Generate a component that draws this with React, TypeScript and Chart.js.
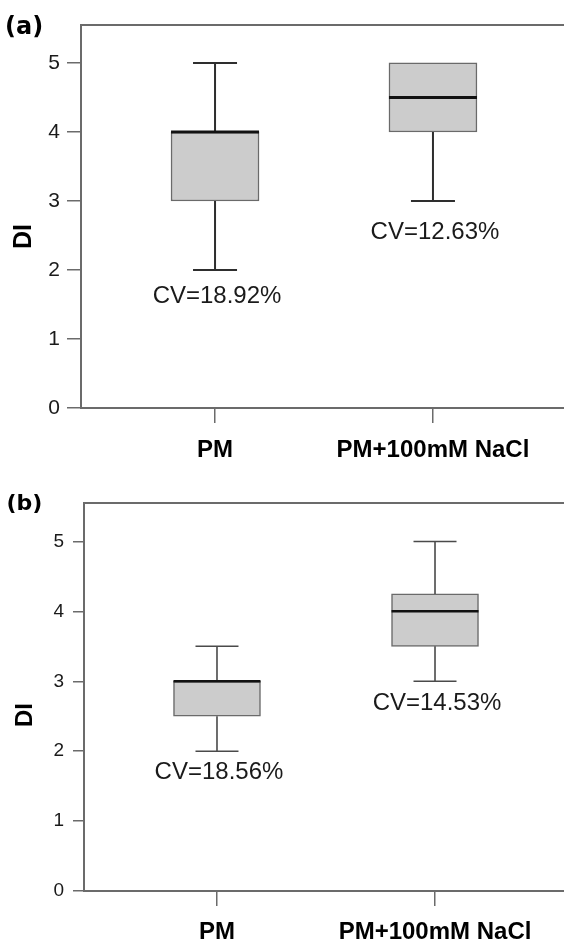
import React, { useEffect, useRef } from 'react';
import { Chart, registerables } from 'chart.js';

Chart.register(...registerables);

// ---------- data ----------
const categories = ['PM', 'PM+100mM NaCl'];
const categoryPositions = [1, 2];
const yTickValues = [0, 1, 2, 3, 4, 5];
const yAxisTitle = 'DI';

const panelALabel = '(a)';
const panelAMin = [2, 3];
const panelAQ1 = [3, 4];
const panelAMedian = [4, 4.5];
const panelAQ3 = [4, 5];
const panelAMax = [5, 5];
const panelACV = ['CV=18.92%', 'CV=12.63%'];
const panelACVAt = [1.62, 2.54];

const panelBLabel = '(b)';
const panelBMin = [2, 3];
const panelBQ1 = [2.5, 3.5];
const panelBMedian = [3, 4];
const panelBQ3 = [3, 4.25];
const panelBMax = [3.5, 5];
const panelBCV = ['CV=18.56%', 'CV=14.53%'];
const panelBCVAt = [1.7, 2.69];

// ---------- styles ----------
const SANS = '"Liberation Sans", Arial, Helvetica, sans-serif';
const AXIS_COLOR = '#6b6b6b';
const TEXT_COLOR = '#1a1a1a';
const BOX_FILL = '#cccccc';
const BOX_BORDER = '#6a6a6a';

type Panel = {
  label: string;
  min: number[];
  q1: number[];
  median: number[];
  q3: number[];
  max: number[];
  cv: string[];
  cvAt: number[];
  canvasW: number;
  canvasH: number;
  offsetTop: number;
  padTop: number;
  yAxisW: number;
  xAxisH: number;
  xMin: number;
  xMax: number;
  yMax: number;
  boxW: number;
  capW: number;
  tickFont: number;
  tickPad: number;
  tickLen: number;
  xLabelPad: number;
  whiskerW: number;
  whiskerColor: string;
  medianW: number;
  titleX: number;
  titleY: number;
  titleFont: number;
  panelX: number;
  panelY: number;
  panelFont: number;
};

const panels: Panel[] = [
  {
    label: panelALabel,
    min: panelAMin,
    q1: panelAQ1,
    median: panelAMedian,
    q3: panelAQ3,
    max: panelAMax,
    cv: panelACV,
    cvAt: panelACVAt,
    canvasW: 567,
    canvasH: 470,
    offsetTop: 0,
    padTop: 25,
    yAxisW: 81,
    xAxisH: 62,
    xMin: 0.385,
    xMax: 2.615,
    yMax: 5.55,
    boxW: 88,
    capW: 44,
    tickFont: 21,
    tickPad: 7,
    tickLen: 14,
    xLabelPad: 13,
    whiskerW: 2,
    whiskerColor: '#2e2e2e',
    medianW: 3,
    titleX: 24,
    titleY: 236.5,
    titleFont: 25,
    panelX: 5,
    panelY: 33.5,
    panelFont: 24,
  },
  {
    label: panelBLabel,
    min: panelBMin,
    q1: panelBQ1,
    median: panelBMedian,
    q3: panelBQ3,
    max: panelBMax,
    cv: panelBCV,
    cvAt: panelBCVAt,
    canvasW: 568,
    canvasH: 475,
    offsetTop: 470,
    padTop: 33,
    yAxisW: 84,
    xAxisH: 54,
    xMin: 0.39,
    xMax: 2.61,
    yMax: 5.55,
    boxW: 87,
    capW: 43,
    tickFont: 19,
    tickPad: 9,
    tickLen: 11,
    xLabelPad: 12,
    whiskerW: 1.6,
    whiskerColor: '#4a4a4a',
    medianW: 2.5,
    titleX: 25.5,
    titleY: 245,
    titleFont: 24,
    panelX: 6.5,
    panelY: 40.4,
    panelFont: 22,
  },
];

function makeExtras(p: Panel) {
  return {
    id: 'boxExtras',
    afterDatasetsDraw(chart: any) {
      const { ctx, chartArea } = chart;
      const xs = chart.scales.x;
      const ys = chart.scales.y;
      ctx.save();

      // top frame line
      ctx.strokeStyle = AXIS_COLOR;
      ctx.lineWidth = 2;
      ctx.beginPath();
      ctx.moveTo(chartArea.left, chartArea.top);
      ctx.lineTo(chartArea.right, chartArea.top);
      ctx.stroke();

      categoryPositions.forEach((pos, i) => {
        const cx = xs.getPixelForValue(pos);
        const yMin = ys.getPixelForValue(p.min[i]);
        const yQ1 = ys.getPixelForValue(p.q1[i]);
        const yMed = ys.getPixelForValue(p.median[i]);
        const yQ3 = ys.getPixelForValue(p.q3[i]);
        const yMax = ys.getPixelForValue(p.max[i]);

        // whiskers
        ctx.strokeStyle = p.whiskerColor;
        ctx.lineWidth = p.whiskerW;
        ctx.beginPath();
        if (p.max[i] > p.q3[i]) {
          ctx.moveTo(cx, yQ3);
          ctx.lineTo(cx, yMax);
          ctx.moveTo(cx - p.capW / 2, yMax);
          ctx.lineTo(cx + p.capW / 2, yMax);
        }
        if (p.min[i] < p.q1[i]) {
          ctx.moveTo(cx, yQ1);
          ctx.lineTo(cx, yMin);
          ctx.moveTo(cx - p.capW / 2, yMin);
          ctx.lineTo(cx + p.capW / 2, yMin);
        }
        ctx.stroke();

        // median
        ctx.strokeStyle = '#111111';
        ctx.lineWidth = p.medianW;
        ctx.beginPath();
        ctx.moveTo(cx - p.boxW / 2, yMed);
        ctx.lineTo(cx + p.boxW / 2, yMed);
        ctx.stroke();

        // CV annotation
        ctx.fillStyle = TEXT_COLOR;
        ctx.font = `24px ${SANS}`;
        ctx.textAlign = 'center';
        ctx.textBaseline = 'middle';
        ctx.fillText(p.cv[i], cx + 2, ys.getPixelForValue(p.cvAt[i]));
      });

      // y-axis title
      ctx.save();
      ctx.translate(p.titleX, p.titleY);
      ctx.rotate(-Math.PI / 2);
      ctx.font = `bold ${p.titleFont}px ${SANS}`;
      ctx.fillStyle = '#000';
      ctx.textAlign = 'center';
      ctx.textBaseline = 'middle';
      ctx.fillText(yAxisTitle, 0, 0);
      ctx.restore();

      // panel label
      ctx.font = `bold ${p.panelFont}px "DejaVu Sans", sans-serif`;
      ctx.fillStyle = '#000';
      ctx.textAlign = 'left';
      ctx.textBaseline = 'alphabetic';
      ctx.fillText(p.label, p.panelX, p.panelY);

      ctx.restore();
    },
  };
}

function BoxPanel({ p }: { p: Panel }) {
  const ref = useRef<HTMLCanvasElement | null>(null);

  useEffect(() => {
    if (!ref.current) return;
    const chart = new Chart(ref.current, {
      type: 'bar',
      data: {
        datasets: [
          {
            data: categoryPositions.map((pos, i) => ({ x: pos, y: [p.q1[i], p.q3[i]] })) as any,
            backgroundColor: BOX_FILL,
            borderColor: BOX_BORDER,
            borderWidth: 1.5,
            borderSkipped: false,
            barThickness: p.boxW,
          },
        ],
      },
      options: {
        responsive: false,
        animation: false,
        devicePixelRatio: 1,
        layout: { padding: { top: p.padTop, left: 0, right: 0, bottom: 0 } },
        plugins: {
          legend: { display: false },
          tooltip: { enabled: false },
        },
        scales: {
          x: {
            type: 'linear',
            offset: false,
            min: p.xMin,
            max: p.xMax,
            afterBuildTicks: (s: any) => {
              s.ticks = categoryPositions.map((v) => ({ value: v }));
            },
            afterFit: (s: any) => {
              s.height = p.xAxisH;
            },
            ticks: {
              autoSkip: false,
              maxRotation: 0,
              padding: p.xLabelPad,
              color: '#000',
              font: { family: SANS, size: 24, weight: 'bold' },
              callback: (v: any) => {
                const idx = categoryPositions.indexOf(Number(v));
                return idx >= 0 ? categories[idx] : '';
              },
            },
            grid: {
              offset: false,
              drawOnChartArea: false,
              tickLength: 15,
              color: AXIS_COLOR,
              lineWidth: 1.5,
            },
            border: { display: true, color: AXIS_COLOR, width: 2 },
          },
          y: {
            type: 'linear',
            min: 0,
            max: p.yMax,
            afterBuildTicks: (s: any) => {
              s.ticks = yTickValues.map((v) => ({ value: v }));
            },
            afterFit: (s: any) => {
              s.width = p.yAxisW;
            },
            ticks: {
              padding: p.tickPad,
              color: TEXT_COLOR,
              font: { family: SANS, size: p.tickFont },
            },
            grid: {
              drawOnChartArea: false,
              tickLength: p.tickLen,
              color: AXIS_COLOR,
              lineWidth: 1.5,
            },
            border: { display: true, color: AXIS_COLOR, width: 2 },
          },
        },
      } as any,
      plugins: [makeExtras(p)],
    });
    return () => chart.destroy();
  }, [p]);

  return (
    <canvas
      ref={ref}
      width={p.canvasW}
      height={p.canvasH}
      style={{ position: 'absolute', left: 0, top: p.offsetTop, width: p.canvasW, height: p.canvasH }}
    />
  );
}

export default function App() {
  return (
    <div
      style={{
        position: 'fixed',
        left: 0,
        top: 0,
        width: 564,
        height: 945,
        overflow: 'hidden',
        background: '#ffffff',
      }}
    >
      {panels.map((p) => (
        <BoxPanel key={p.label} p={p} />
      ))}
    </div>
  );
}
